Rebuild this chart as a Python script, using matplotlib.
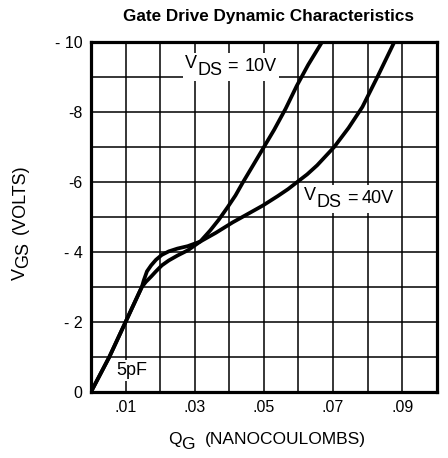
import matplotlib
matplotlib.use("Agg")
import matplotlib.pyplot as plt
from matplotlib.ticker import MultipleLocator
from matplotlib.transforms import offset_copy, Bbox, IdentityTransform
from matplotlib.patches import Rectangle

plt.rcParams['font.family'] = ['Liberation Sans', 'DejaVu Sans']

# gate charge (nC) vs gate-source voltage (V)
qg_10v = [0, 0.0053, 0.01, 0.0147, 0.0159, 0.0174, 0.0188, 0.0205, 0.0225,
          0.025, 0.028, 0.0316, 0.0345, 0.037, 0.0395, 0.0418, 0.0438, 0.047,
          0.05, 0.053, 0.0563, 0.0595, 0.0628, 0.0668]
vgs_10v = [0, -1, -2, -3, -3.15, -3.3, -3.45, -3.62, -3.76,
           -3.9, -4.05, -4.3, -4.62, -4.93, -5.28, -5.62, -5.97, -6.5,
           -7, -7.5, -8.1, -8.75, -9.35, -10]

qg_40v = [0, 0.0053, 0.01, 0.0147, 0.0153, 0.0162, 0.0174, 0.0188, 0.0205,
          0.0225, 0.025, 0.028, 0.0316, 0.0361, 0.041, 0.045, 0.0497, 0.054,
          0.057, 0.06, 0.0625, 0.0654, 0.0703, 0.0745, 0.0785, 0.0828, 0.0877]
vgs_40v = [0, -1, -2, -3, -3.2, -3.45, -3.62, -3.78, -3.92,
           -4.02, -4.1, -4.17, -4.3, -4.55, -4.85, -5.07, -5.33, -5.6,
           -5.8, -6.03, -6.22, -6.48, -7, -7.55, -8.15, -9, -10]

x_ticks = [0.01, 0.03, 0.05, 0.07, 0.09]
x_labels = ['.01', '.03', '.05', '.07', '.09']
y_ticks = [0, -2, -4, -6, -8, -10]
y_labels = ['0', '- 2', '- 4', '-6', '-8', '- 10']

fig = plt.figure(figsize=(4.48, 4.58), dpi=100)
ax = fig.add_axes([0.203, 0.144, 0.772, 0.764])


def sub_text(x, y, pieces, trans, size, rotation=0, box=False):
    # pieces: (text, drop below baseline in pt, gap before in pt)
    r = fig.canvas.get_renderer()
    t = trans
    exts = []
    for s, drop, gap in pieces:
        if rotation:
            t = offset_copy(t, fig=fig, y=gap, units='points')
            tt = offset_copy(t, fig=fig, x=drop, units='points')
        else:
            t = offset_copy(t, fig=fig, x=gap, units='points')
            tt = offset_copy(t, fig=fig, y=-drop, units='points')
        txt = fig.text(x, y, s, transform=tt, size=size, rotation=rotation,
                       rotation_mode='anchor', ha='left', va='baseline', zorder=5)
        ext = txt.get_window_extent(r)
        exts.append(ext)
        if rotation:
            t = offset_copy(t, y=ext.height, units='dots')
        else:
            t = offset_copy(t, x=ext.width, units='dots')
    if box:
        bb = Bbox.union(exts).padded(2)
        fig.add_artist(Rectangle((bb.x0, bb.y0), bb.width, bb.height,
                                 transform=IdentityTransform(),
                                 facecolor='white', edgecolor='none', zorder=4))


ax.plot(qg_10v, vgs_10v, color='black', lw=2.7, solid_capstyle='round',
        solid_joinstyle='round', zorder=3)
ax.plot(qg_40v, vgs_40v, color='black', lw=2.7, solid_capstyle='round',
        solid_joinstyle='round', zorder=3)

ax.set_xlim(0, 0.1)
ax.set_ylim(0, -10)
ax.xaxis.set_minor_locator(MultipleLocator(0.01))
ax.yaxis.set_minor_locator(MultipleLocator(1))
ax.set_xticks(x_ticks)
ax.set_xticklabels(x_labels)
ax.set_yticks(y_ticks)
ax.set_yticklabels(y_labels)
ax.grid(which='both', color='black', lw=1.1)
ax.tick_params(which='both', length=0, labelsize=11.5)
ax.tick_params(axis='y', pad=6)
ax.tick_params(axis='x', pad=6)
for s in ax.spines.values():
    s.set_linewidth(2.3)

# curve labels
sub_text(0.0273, -9.25, [('V', 0, 0), ('DS', 5, 0), ('=', 2, 3.5), ('10V', 2, 5)],
         ax.transData, 13, box=True)
sub_text(0.0617, -5.48, [('V', 0, 0), ('DS', 4.5, 0), ('=', 2, 4), ('40V', 2, 3)],
         ax.transData, 13, box=True)
sub_text(0.0074, -0.5, [('5pF', 0, 0)], ax.transData, 13, box=True)

# axis labels
sub_text(0.375, 0.031, [('Q', 0, 0), ('G', 4, 0), ('(NANOCOULOMBS)', 0, 7)],
         fig.transFigure, 12.5)
sub_text(0.056, 0.389, [('V', 0, 0), ('GS', 2.2, 0), ('(VOLTS)', 0, 6)],
         fig.transFigure, 13, rotation=90)

fig.text(0.6, 0.965, 'Gate Drive Dynamic Characteristics', fontsize=12.3,
         fontweight='bold', ha='center', va='center')

fig.savefig('out.png', dpi=100)
